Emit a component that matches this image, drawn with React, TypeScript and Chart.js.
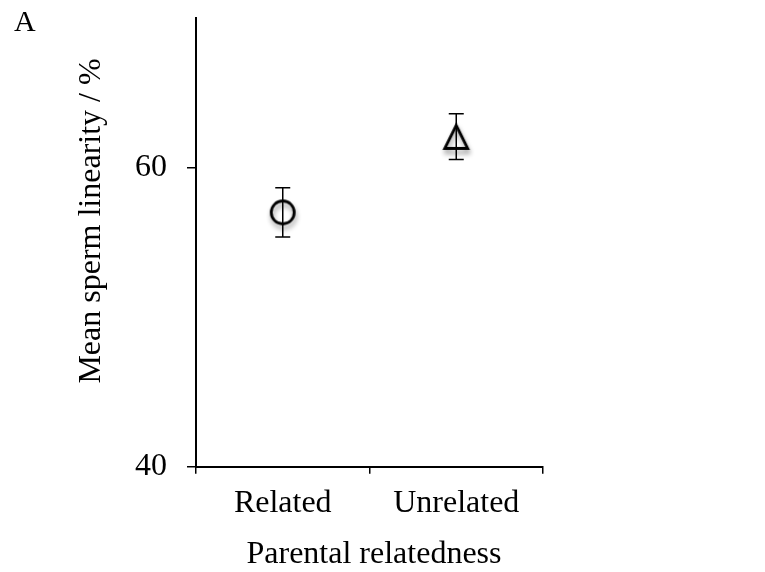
import React, { useEffect, useRef } from "react";
import { Chart, registerables } from "chart.js";

Chart.register(...registerables);

const categories = ["Related", "Unrelated"];
const meanValues = [57.0, 62.05];
const errorPlus = [1.65, 1.54];
const errorMinus = [1.65, 1.51];
const yTickValues = [40, 60];
const yMin = 40;
const yMax = 70;
const panelLabel = "A";
const yTitle = "Mean sperm linearity / %";
const xTitle = "Parental relatedness";

const FONT = '"Liberation Serif", "Times New Roman", serif';

function makeMarker(kind: "circle" | "triangle"): HTMLCanvasElement {
  const c = document.createElement("canvas");
  c.width = 44;
  c.height = 44;
  const ctx = c.getContext("2d")!;
  const cx = 22;
  const cy = 22;
  ctx.strokeStyle = "#000";
  ctx.lineWidth = 2.8;
  ctx.lineJoin = "miter";
  ctx.shadowColor = "rgba(0,0,0,0.4)";
  ctx.shadowBlur = 5;
  ctx.shadowOffsetX = 1;
  ctx.shadowOffsetY = 4;
  ctx.beginPath();
  if (kind === "circle") {
    ctx.arc(cx, cy, 11.5, 0, Math.PI * 2);
  } else {
    ctx.moveTo(cx, cy - 11.5);
    ctx.lineTo(cx + 11.5, cy + 11.5);
    ctx.lineTo(cx - 11.5, cy + 11.5);
    ctx.closePath();
  }
  ctx.stroke();
  return c;
}

const errorBarPlugin = {
  id: "errorBars",
  afterDatasetsDraw(chart: any) {
    const { ctx, scales } = chart;
    const xs = scales.x;
    const ys = scales.y;
    ctx.save();
    ctx.strokeStyle = "#000";
    ctx.lineWidth = 1.5;
    meanValues.forEach((v, i) => {
      const x = xs.getPixelForValue(i);
      const yt = ys.getPixelForValue(v + errorPlus[i]);
      const yb = ys.getPixelForValue(v - errorMinus[i]);
      ctx.beginPath();
      ctx.moveTo(x, yt);
      ctx.lineTo(x, yb);
      ctx.moveTo(x - 7.5, yt);
      ctx.lineTo(x + 7.5, yt);
      ctx.moveTo(x - 7.5, yb);
      ctx.lineTo(x + 7.5, yb);
      ctx.stroke();
    });
    ctx.restore();
  },
};

const textPlugin = {
  id: "texts",
  afterDraw(chart: any) {
    const { ctx } = chart;
    ctx.save();
    ctx.fillStyle = "#000";
    ctx.font = `30px ${FONT}`;
    ctx.textAlign = "left";
    ctx.textBaseline = "alphabetic";
    ctx.fillText(panelLabel, 14, 31);

    ctx.font = `32px ${FONT}`;
    ctx.textAlign = "center";
    ctx.fillText(xTitle, 374, 563);

    ctx.translate(100, 221);
    ctx.rotate(-Math.PI / 2);
    ctx.fillText(yTitle, 0, 0);
    ctx.restore();
  },
};

export default function App() {
  const ref = useRef<HTMLCanvasElement | null>(null);

  useEffect(() => {
    if (!ref.current) return;
    const markers = [makeMarker("circle"), makeMarker("triangle")];
    const chart = new Chart(ref.current, {
      type: "line",
      data: {
        labels: categories,
        datasets: [
          {
            data: meanValues,
            showLine: false,
            pointStyle: markers as any,
            pointRadius: 12,
            pointHoverRadius: 12,
            borderColor: "#000",
            backgroundColor: "transparent",
          },
        ],
      },
      options: {
        responsive: false,
        animation: false,
        events: [],
        layout: { padding: { top: 18, right: 222, left: 0, bottom: 0 } },
        plugins: {
          legend: { display: false },
          tooltip: { enabled: false },
        },
        scales: {
          x: {
            type: "category",
            offset: true,
            afterFit(scale: any) {
              scale.height = 572 - 466.7;
              scale.paddingLeft = 0;
              scale.paddingRight = 0;
            },
            grid: {
              offset: true,
              drawOnChartArea: false,
              drawTicks: true,
              tickLength: 7,
              color: "#000",
              lineWidth: 1.5,
            },
            border: { display: true, color: "#000", width: 2 },
            ticks: {
              color: "#000",
              padding: 11,
              font: { family: FONT, size: 32 },
              maxRotation: 0,
            },
          },
          y: {
            type: "linear",
            min: yMin,
            max: yMax,
            afterFit(scale: any) {
              scale.width = 196;
              scale.paddingTop = 0;
              scale.paddingBottom = 0;
            },
            afterBuildTicks(scale: any) {
              scale.ticks = yTickValues.map((v) => ({ value: v }));
            },
            grid: {
              drawOnChartArea: false,
              drawTicks: true,
              tickLength: 9,
              color: "#000",
              lineWidth: 1.5,
            },
            border: { display: true, color: "#000", width: 2 },
            ticks: {
              color: "#000",
              padding: 20,
              font: { family: FONT, size: 32 },
            },
          },
        },
      },
      plugins: [errorBarPlugin, textPlugin],
    } as any);
    return () => chart.destroy();
  }, []);

  return (
    <div style={{ position: "absolute", left: 0, top: 0, width: 765, height: 572, background: "#fff" }}>
      <canvas ref={ref} width={765} height={572} style={{ display: "block" }} />
    </div>
  );
}
